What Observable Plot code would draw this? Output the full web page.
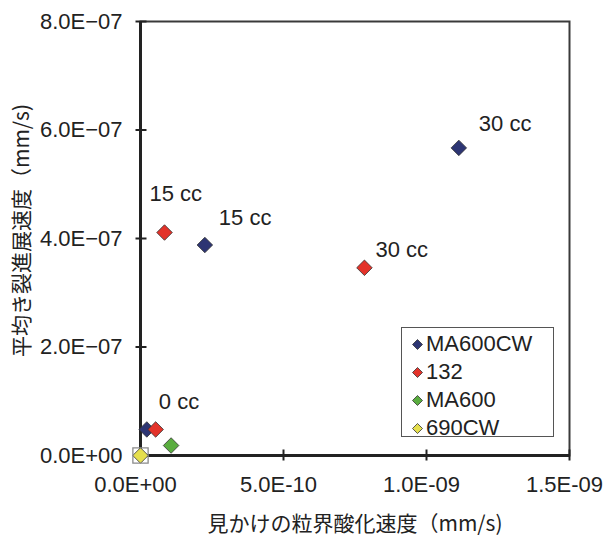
<!DOCTYPE html>
<html>
<head>
<meta charset="utf-8">
<script src="https://cdn.jsdelivr.net/npm/d3@7"></script>
<script src="https://cdn.jsdelivr.net/npm/@observablehq/plot@0.6"></script>
<style>
  body { margin: 0; background: white; }
  #wrap { position: relative; width: 605px; height: 536px; font-family: "Liberation Sans", Arial, "Noto Sans CJK JP", sans-serif; }
  #legend { position: absolute; left: 401px; top: 327px; width: 153px; height: 110px; border: 1px solid #555; background: white; box-sizing: border-box; }
  .lrow { position: absolute; left: 10px; height: 26px; display: flex; align-items: center; font-size: 22px; color: #222; }
  .lrow svg { margin-right: 3px; }
</style>
</head>
<body>
<div id="wrap"></div>
<script>
// ---- data ----
const seriesNames = ["MA600CW", "132", "MA600", "690CW"];
const seriesColors = ["#2d3573", "#e3332a", "#5aad3f", "#e5df4d"];

const ma600cwX = [2.2e-11, 2.25e-10, 1.113e-9];
const ma600cwY = [4.8e-8, 3.88e-7, 5.67e-7];
const s132X = [5.3e-11, 8.4e-11, 7.83e-10];
const s132Y = [4.8e-8, 4.11e-7, 3.46e-7];
const ma600X = [1.07e-10];
const ma600Y = [1.84e-8];
const cw690X = [0];
const cw690Y = [0];

const xTicks = [0, 5e-10, 1e-9, 1.5e-9];
const xTickLabels = ["0.0E+00", "5.0E-10", "1.0E-09", "1.5E-09"];
const yTicks = [0, 2e-7, 4e-7, 6e-7, 8e-7];
const yTickLabels = ["0.0E+00", "2.0E\u221207", "4.0E\u221207", "6.0E\u221207", "8.0E\u221207"];

const xTitle = "見かけの粒界酸化速度（mm/s)";
const yTitle = "平均き裂進展速度（mm/s)";

// point annotations: series, point index, text
const annotations = [
  {series: "MA600CW", i: 0, text: "0 cc"},
  {series: "132", i: 1, text: "15 cc"},
  {series: "MA600CW", i: 1, text: "15 cc"},
  {series: "132", i: 2, text: "30 cc"},
  {series: "MA600CW", i: 2, text: "30 cc"}
];

// ---- build table ----
const seriesXY = {
  "MA600CW": [ma600cwX, ma600cwY],
  "132": [s132X, s132Y],
  "MA600": [ma600X, ma600Y],
  "690CW": [cw690X, cw690Y]
};
const points = [];
for (const s of seriesNames) {
  const [xs, ys] = seriesXY[s];
  xs.forEach((x, i) => points.push({series: s, i, x, y: ys[i]}));
}
const colorOf = s => seriesColors[seriesNames.indexOf(s)];
const ann = annotations.map(a => {
  const p = points.find(q => q.series === a.series && q.i === a.i);
  return {...a, x: p.x, y: p.y};
});

const fmt = (ticks, labels) => d => {
  const k = ticks.findIndex(t => Math.abs(t - d) < 1e-15);
  return k >= 0 ? labels[k] : "";
};

const hTick = {draw(ctx) { ctx.moveTo(-5, 0); ctx.lineTo(6, 0); }};
const vTick = {draw(ctx) { ctx.moveTo(0, -6); ctx.lineTo(0, 5); }};

const labelOffsets = [[12, -28], [-15, -39], [14, -27], [11, -18], [20, -24]];

const textStyle = {textAnchor: "start", lineAnchor: "middle", fill: "#222", fontSize: 22};
const xTickRows = xTicks.map((t, k) => ({t, label: xTickLabels[k]}));

const chart = Plot.plot({
  width: 605,
  height: 536,
  marginLeft: 140,
  marginRight: 36,
  marginTop: 21,
  marginBottom: 81,
  style: {fontFamily: "'Liberation Sans', Arial, 'Noto Sans CJK JP', sans-serif", fontSize: "22px", color: "#222", background: "white"},
  x: {domain: [0, 1.5e-9], axis: null},
  y: {domain: [0, 8e-7], ticks: yTicks, tickFormat: fmt(yTicks, yTickLabels), tickSize: 0, tickPadding: 18, label: null},
  marks: [
    Plot.frame({stroke: "#3a3a3a", strokeWidth: 2}),
    Plot.ruleX([0], {stroke: "#222", strokeWidth: 3}),
    Plot.ruleY([0], {stroke: "#222", strokeWidth: 3}),
    Plot.dot(yTicks, {x: () => 0, y: d => d, symbol: hTick, fill: "none", stroke: "#222", strokeWidth: 2}),
    Plot.dot(xTicks, {x: d => d, y: () => 0, symbol: vTick, fill: "none", stroke: "#222", strokeWidth: 2}),
    Plot.text(xTickRows, {x: "t", frameAnchor: "bottom", text: "label", dx: -5, dy: 29, textAnchor: "middle", lineAnchor: "middle", fill: "#222", fontSize: 22}),
    Plot.dot(points, {x: "x", y: "y", symbol: "diamond2", r: 7, fill: d => colorOf(d.series), stroke: "#333", strokeWidth: 0.8}),
    Plot.dot(points.filter(d => d.series === "690CW"), {x: "x", y: "y", symbol: "square", r: 8.6, fill: "none", stroke: "#8a8a8a", strokeWidth: 1.3}),
    ...ann.map((a, k) => Plot.text([a], {x: "x", y: "y", text: "text", dx: labelOffsets[k][0], dy: labelOffsets[k][1], ...textStyle})),
    Plot.text([xTitle], {frameAnchor: "bottom", dy: 69, textAnchor: "middle", lineAnchor: "middle", text: d => d, fontSize: 21, fill: "#222", fontFamily: "'Noto Sans CJK JP', sans-serif"}),
    Plot.text([yTitle], {frameAnchor: "left", dx: -118, dy: -8, rotate: -90, textAnchor: "middle", lineAnchor: "middle", text: d => d, fontSize: 21, fill: "#222", fontFamily: "'Noto Sans CJK JP', sans-serif"})
  ]
});

const wrap = document.getElementById("wrap");
wrap.appendChild(chart);

// legend
const legend = document.createElement("div");
legend.id = "legend";
seriesNames.forEach((s, k) => {
  const row = document.createElement("div");
  row.className = "lrow";
  row.style.top = (3 + k * 28) + "px";
  row.innerHTML = `<svg width="11" height="11" viewBox="0 0 11 11"><polygon points="5.5,0.5 10.5,5.5 5.5,10.5 0.5,5.5" fill="${seriesColors[k]}" stroke="#333" stroke-width="0.8"/></svg><span>${s}</span>`;
  legend.appendChild(row);
});
wrap.appendChild(legend);
</script>
</body>
</html>
